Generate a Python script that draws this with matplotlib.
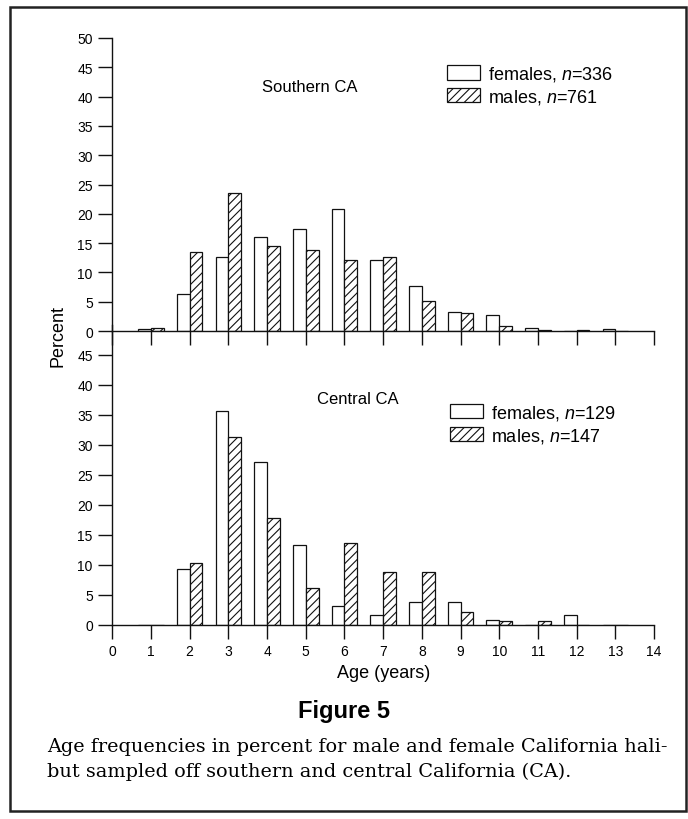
import matplotlib
matplotlib.use("Agg")
import matplotlib.pyplot as plt
from matplotlib.patches import Rectangle
import numpy as np

# ---------------- data ----------------
ages = [1, 2, 3, 4, 5, 6, 7, 8, 9, 10, 11, 12, 13]
south_females = [0.3, 6.3, 12.6, 16.1, 17.4, 20.8, 12.2, 7.7, 3.3, 2.7, 0.5, 0.0, 0.3]
south_males   = [0.5, 13.4, 23.5, 14.5, 13.9, 12.1, 12.7, 5.2, 3.0, 0.8, 0.1, 0.1, 0.0]
central_females = [0.0, 9.4, 35.7, 27.1, 13.3, 3.2, 1.7, 3.9, 3.9, 0.9, 0.0, 1.7, 0.0]
central_males   = [0.0, 10.3, 31.3, 17.8, 6.1, 13.6, 8.8, 8.8, 2.1, 0.7, 0.7, 0.0, 0.0]
xticks = list(range(0, 15))
yticks_upper = [0, 5, 10, 15, 20, 25, 30, 35, 40, 45, 50]
yticks_lower = [0, 5, 10, 15, 20, 25, 30, 35, 40, 45]
south_labels = ["females, $\\it{n}$=336", "males, $\\it{n}$=761"]
central_labels = ["females, $\\it{n}$=129", "males, $\\it{n}$=147"]

plt.rcParams['font.family'] = ['Liberation Sans', 'DejaVu Sans']
plt.rcParams['mathtext.fontset'] = 'custom'
plt.rcParams['mathtext.it'] = 'Liberation Sans:italic'
plt.rcParams['mathtext.rm'] = 'Liberation Sans'
plt.rcParams['hatch.linewidth'] = 0.8
plt.rcParams['hatch.color'] = '#111111'

W, H = 688, 820
fig = plt.figure(figsize=(W / 100, H / 100), dpi=100)
fig.patch.set_facecolor('white')

def px_axes(left, right, top, bottom):
    return fig.add_axes([left / W, 1 - bottom / H, (right - left) / W, (bottom - top) / H])

ax1 = px_axes(112.3, 654, 39, 332)
ax2 = px_axes(112.3, 654, 326, 626)

bw = 0.33
lc = '#111111'

def draw(ax, fem, mal, labels, yt, leg_anchor, title, title_xy):
    x = np.array(ages, dtype=float)
    ax.bar(x - bw / 2, fem, width=bw, color='white', edgecolor=lc, linewidth=0.9,
           label=labels[0], zorder=2)
    ax.bar(x + bw / 2, mal, width=bw, color='white', edgecolor=lc, linewidth=0.9,
           hatch='////', label=labels[1], zorder=2)
    ax.set_xlim(0, 14)
    ax.set_ylim(0, 50)
    for s in ['top', 'right']:
        ax.spines[s].set_visible(False)
    for s in ['left', 'bottom']:
        ax.spines[s].set_linewidth(1.0)
        ax.spines[s].set_color(lc)
    ax.set_xticks(xticks)
    ax.set_yticks(yt)
    ax.tick_params(direction='out', length=10, width=1.0, color=lc, labelsize=10,
                   labelcolor='black', pad=4)
    ax.patch.set_alpha(0)
    ax.legend(loc='upper left', bbox_to_anchor=leg_anchor, frameon=False, fontsize=13,
              handlelength=1.85, handleheight=0.85, handletextpad=0.45,
              labelspacing=0.2, borderpad=0, borderaxespad=0)
    ax.text(title_xy[0], title_xy[1], title, ha='center', va='center', fontsize=12)

draw(ax1, south_females, south_males, south_labels, yticks_upper, (0.617, 0.91),
     'Southern CA', (5.11, 41.8))
draw(ax2, central_females, central_males, central_labels, yticks_lower, (0.623, 0.74),
     'Central CA', (6.35, 37.7))
ax1.tick_params(axis='x', labelbottom=False)
ax2.set_xlabel('Age (years)', fontsize=13, labelpad=4)

fig.text(58 / W, 1 - 336 / H, 'Percent', rotation=90, ha='center', va='center', fontsize=13)

fig.text(344 / W, 1 - 712 / H, 'Figure 5', ha='center', va='center', fontsize=17,
         fontweight='bold')
fig.text(47 / W, 1 - 747 / H,
         'Age frequencies in percent for male and female California hali-',
         ha='left', va='center', fontsize=13.9, family=['DejaVu Serif'])
fig.text(47 / W, 1 - 772 / H,
         'but sampled off southern and central California (CA).',
         ha='left', va='center', fontsize=13.9, family=['DejaVu Serif'])

fig.add_artist(Rectangle((10 / W, 1 - 812 / H), 676 / W, 804 / H, transform=fig.transFigure,
                         fill=False, edgecolor='#222222', linewidth=1.8))

fig.savefig('out.png', dpi=100, facecolor='white')
